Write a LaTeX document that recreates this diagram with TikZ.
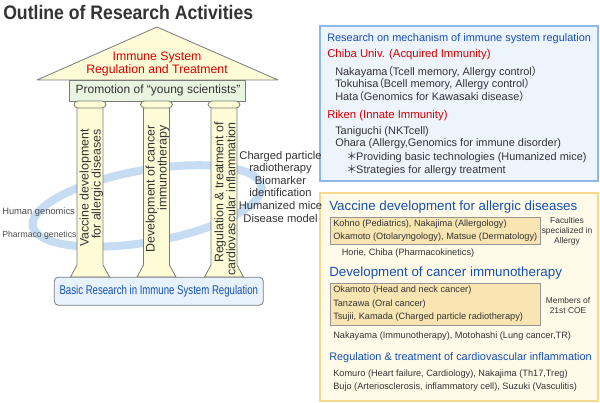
\documentclass[tikz,border=0pt]{standalone}
\usepackage{fontspec}
\setmainfont{Liberation Sans}
\newfontfamily\titlefont[FakeStretch=0.9]{Liberation Sans}
\newfontfamily\narrowfont[FakeStretch=0.76]{Liberation Sans}
\newfontfamily\cjk[RawFeature=+palt]{Noto Sans CJK JP}
\usepackage{xcolor}
\definecolor{txtgray}{HTML}{333333}
\definecolor{linegray}{HTML}{7A7A7A}
\definecolor{roofyellow}{HTML}{FDFCD6}
\definecolor{friezegreen}{HTML}{EAF5E1}
\definecolor{baseblue}{HTML}{E8F2FC}
\definecolor{ringblue}{HTML}{C6DCF2}
\definecolor{headblue}{HTML}{1450B4}
\definecolor{headred}{HTML}{D60000}
\definecolor{topframe}{HTML}{8DB8E8}
\definecolor{topfill}{HTML}{EEF4FC}
\definecolor{lowframe}{HTML}{F6D98E}
\definecolor{lowfill}{HTML}{FFFBE8}
\definecolor{innerfill}{HTML}{F8E5B2}
\newcommand{\fwl}{{\cjk （}}
\newcommand{\fwr}{{\cjk ）}}
\newcommand{\fwast}{{\cjk ＊}}
\tikzset{
  temple/.style={draw=linegray, line width=0.6pt, line join=round},
  pillartext/.style={rotate=90, anchor=east, align=right, inner sep=0pt, text=txtgray, font=\fontsize{9.3}{9}\selectfont},
  boxline/.style={anchor=west, inner sep=0pt, text=txtgray, font=\fontsize{8.2}{9.6}\selectfont},
  smallline/.style={anchor=west, inner sep=0pt, text=txtgray, font=\fontsize{6.9}{8.5}\selectfont},
  redhead/.style={anchor=west, inner sep=0pt, text=headred, font=\fontsize{8.5}{10}\selectfont},
  bluehead/.style={anchor=west, inner sep=0pt, text=headblue, font=\fontsize{8.2}{10}\selectfont},
  bighead/.style={anchor=west, inner sep=0pt, text=headblue, font=\fontsize{10}{12}\selectfont},
  sidenote/.style={align=center, inner sep=0pt, text=txtgray, font=\fontsize{6.3}{7.5}\selectfont},
}
\begin{document}
\begin{tikzpicture}[x=0.75pt, y=-0.75pt]
\useasboundingbox (0,0) rectangle (600,403);
\node[anchor=west, inner sep=0pt, text=txtgray, font=\titlefont\bfseries\fontsize{14.7}{16}\selectfont] (title) at (3,12) {Outline of Research Activities};

\draw[ringblue, line width=6pt] plot[domain=0:360, samples=90, variable=\t, smooth]
  ({147+116*cos(\t)*cos(10)-36*sin(\t)*sin(10)}, {206-116*cos(\t)*sin(10)-36*sin(\t)*cos(10)}) -- cycle;

\draw[temple, fill=roofyellow] (37,80) -- (157,27) -- (278,80) -- cycle;
\draw[temple, fill=friezegreen] (69,80) rectangle (245,101);
\foreach \cx in {90,156.5,224} {
  \draw[temple, fill=roofyellow] ({\cx-13},108) -- ({\cx-13},265) -- ({\cx-19.5},277) -- ({\cx+19.5},277) -- ({\cx+13},265) -- ({\cx+13},108);
  \draw[temple, fill=roofyellow, rounded corners=3pt] ({\cx-16},101) rectangle ({\cx+16},108);
}
\node[temple, fill=baseblue, rounded corners=3pt, minimum width=156.75pt, minimum height=21pt, inner sep=0pt, text=headblue, font=\narrowfont\fontsize{9.5}{11}\selectfont] (basic) at (158.8,291.2) {Basic Research in Immune System Regulation};

\node[align=center, inner sep=0pt, text=headred, font=\fontsize{9.2}{9.75}\selectfont] (roof) at (157,63.5) {Immune System\\Regulation and Treatment};
\node[inner sep=0pt, text=txtgray, font=\fontsize{9}{10}\selectfont] (young) at (158,90.5) {Promotion of “young scientists”};

\node[pillartext] (vaccine) at (91.5,129) {Vaccine development\\for allergic diseases};
\node[pillartext] (cancer) at (157.5,125) {Development of cancer\\immunotherapy};
\node[pillartext] (cardio) at (225,122) {Regulation \& treatment of\\cardiovascular inflammation};

\node[smallline, text=black!70, font=\fontsize{7}{8.5}\selectfont] (human) at (2,212) {Human genomics};
\node[smallline, text=black!70, font=\fontsize{6.5}{8.5}\selectfont] (pharma) at (2,235) {Pharmaco genetics};

\draw[draw=topframe, fill=topfill, line width=1.5pt] (320,26) rectangle (598,181);
\node[bluehead] (mech) at (327,39) {Research on mechanism of immune system regulation};
\node[redhead] (chiba) at (327,54.7) {Chiba Univ. (Acquired Immunity)};
\node[boxline] (nakayama) at (335,71.5) {Nakayama\fwl Tcell memory, Allergy control\fwr};
\node[boxline] (tokuhisa) at (335,83.8) {Tokuhisa\fwl Bcell memory, Allergy control\fwr};
\node[boxline] (hata) at (335,96.5) {Hata\fwl Genomics for Kawasaki disease\fwr};
\node[redhead] (riken) at (327,115.7) {Riken (Innate Immunity)};
\node[boxline] (taniguchi) at (335,131.5) {Taniguchi (NKTcell)};
\node[boxline] (ohara) at (335,144) {Ohara (Allergy,Genomics for immune disorder)};
\node[boxline] (provide) at (347,157.3) {\fwast Providing basic technologies (Humanized mice)};
\node[boxline] (strategy) at (347,170) {\fwast Strategies for allergy treatment};

\draw[draw=lowframe, fill=lowfill, line width=1.5pt] (320,193) rectangle (598,401);
\node[bighead] (allergy) at (329,206.7) {Vaccine development for allergic diseases};
\draw[draw=linegray!80, fill=innerfill, line width=0.5pt] (330,217) rectangle (540,244);
\node[smallline] (kohno) at (333,224.3) {Kohno (Pediatrics), Nakajima (Allergology)};
\node[smallline] (okamoto) at (333,236.7) {Okamoto (Otolaryngology), Matsue (Dermatology)};
\node[sidenote] (faculty) at (567,231.3) {Faculties\\specialized in\\Allergy};
\node[smallline] (horie) at (341.5,253.3) {Horie, Chiba (Pharmacokinetics)};
\node[bighead] (immuno) at (329,273.3) {Development of cancer immunotherapy};
\draw[draw=linegray!80, fill=innerfill, line width=0.5pt] (330,283) rectangle (540,325);
\node[smallline] (head) at (333,290.5) {Okamoto (Head and neck cancer)};
\node[smallline] (tanzawa) at (333,304) {Tanzawa (Oral cancer)};
\node[smallline] (tsujii) at (333,316.7) {Tsujii, Kamada (Charged particle radiotherapy)};
\node[sidenote] (coe) at (568,305) {Members of\\21st COE};
\node[smallline] (motohashi) at (333,336) {Nakayama (Immunotherapy), Motohashi (Lung cancer,TR)};
\node[bluehead] (inflam) at (329,357.3) {Regulation \& treatment of cardiovascular inflammation};
\node[smallline] (komuro) at (333,374) {Komuro (Heart failure, Cardiology), Nakajima (Th17,Treg)};
\node[smallline] (bujo) at (333,387.3) {Bujo (Arteriosclerosis, inflammatory cell), Suzuki (Vasculitis)};

\node[align=center, inner sep=0pt, text=txtgray, font=\fontsize{8.4}{9.45}\selectfont] (tools) at (280.5,186.5) {Charged particle\\radiotherapy\\Biomarker\\identification\\Humanized mice\\Disease model};
\end{tikzpicture}
\end{document}
